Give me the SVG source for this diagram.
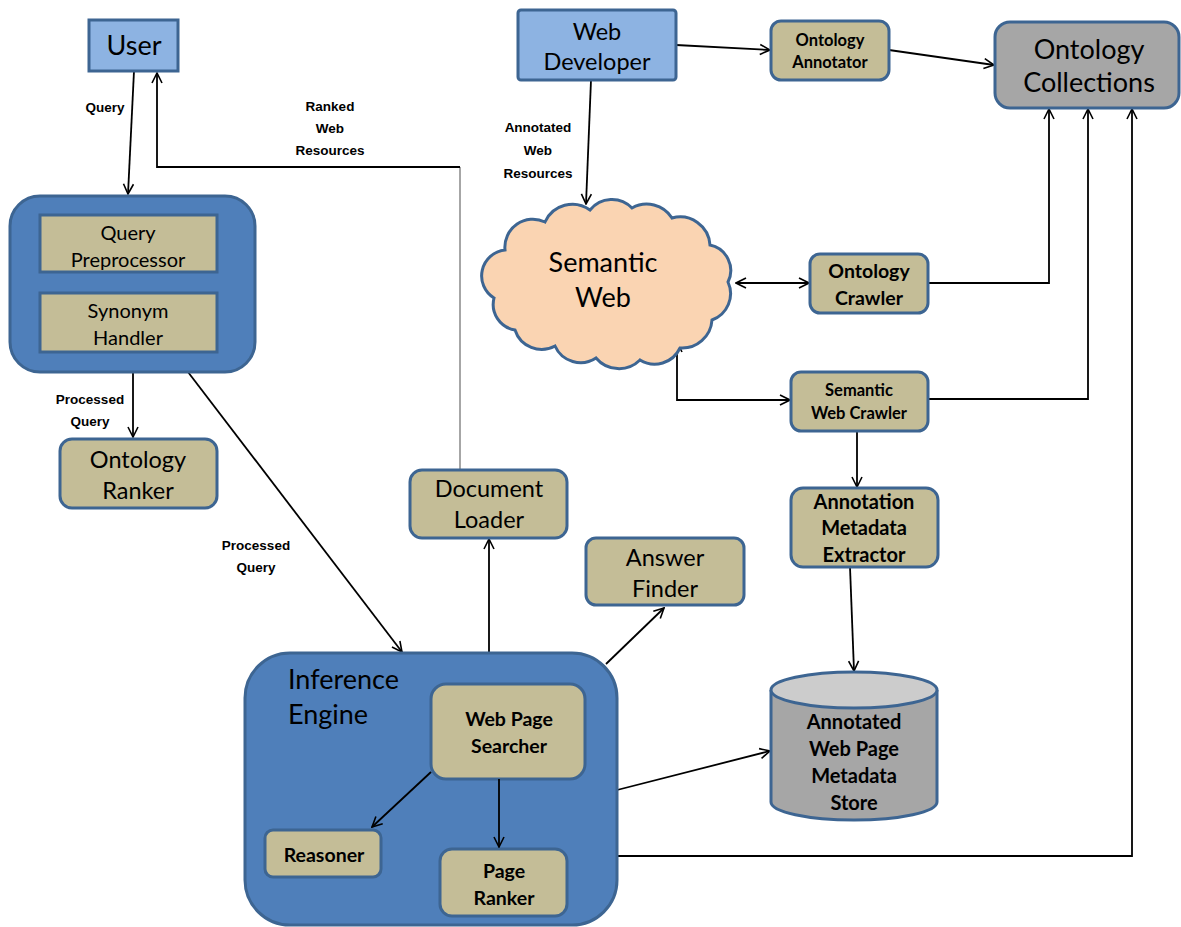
<svg xmlns="http://www.w3.org/2000/svg" width="1181" height="927" viewBox="0 0 1181 927">
<defs>
<marker id="arr" viewBox="0 0 12 12" refX="11" refY="6" markerWidth="12" markerHeight="12" markerUnits="userSpaceOnUse" orient="auto-start-reverse">
<path d="M1,1 L11,6 L1,11" fill="none" stroke="#000" stroke-width="1.6"/>
</marker>
</defs>
<style>
text{font-family:Lato,"Open Sans","Liberation Sans",sans-serif;fill:#000;text-anchor:middle}
.big{font-size:27px}
.mid{font-size:23.5px}
.sm{font-size:19.5px;font-weight:bold}
.xs{font-size:16.5px;font-weight:bold}
.bx{font-size:20px;font-weight:bold}
.qp{font-size:20px}
.lbl{font-family:"Liberation Sans",Arial,sans-serif;font-size:13.5px;font-weight:bold}
.blue{fill:#8db3e2;stroke:#3d6592;stroke-width:3}
.tan{fill:#c4bd97;stroke:#3d6592;stroke-width:3}
.dark{fill:#4f7fba;stroke:#3d6592;stroke-width:3}
.gray{fill:#a6a6a6;stroke:#3d6592;stroke-width:3}
.c{fill:none;stroke:#000;stroke-width:1.8}
</style>
<rect width="1181" height="927" fill="#fff"/>

<g id="connectors">
<path class="c" d="M134,71 L128,194" marker-end="url(#arr)"/>
<path d="M460,470 L460,167" fill="none" stroke="#888" stroke-width="1.5"/>
<path class="c" d="M460,167 L157,167 L157,73" marker-end="url(#arr)"/>
<path class="c" d="M676,45 L770,50" marker-end="url(#arr)"/>
<path class="c" d="M889,50 L994,65" marker-end="url(#arr)"/>
<path class="c" d="M591,80 L586,204" marker-end="url(#arr)"/>
<path class="c" d="M736,283 L809,283" marker-start="url(#arr)" marker-end="url(#arr)"/>
<path class="c" d="M677,342 L677,400 L790,400" marker-start="url(#arr)" marker-end="url(#arr)"/>
<path class="c" d="M928,283 L1049,283 L1049,109" marker-end="url(#arr)"/>
<path class="c" d="M928,399 L1088,399 L1088,109" marker-end="url(#arr)"/>
<path class="c" d="M617,856 L1132,856 L1132,109" marker-end="url(#arr)"/>
<path class="c" d="M857,431 L857,487" marker-end="url(#arr)"/>
<path class="c" d="M850,567 L854,671" marker-end="url(#arr)"/>
<path class="c" d="M128,272 L128,292" marker-end="url(#arr)"/>
<path class="c" d="M133,372 L133,437" marker-end="url(#arr)"/>
<path class="c" d="M188,372 L402,652" marker-end="url(#arr)"/>
<path class="c" d="M489,655 L489,539" marker-end="url(#arr)"/>
<path class="c" d="M606,664 L664,608" marker-end="url(#arr)"/>
<path class="c" d="M617,790 L770,751" marker-end="url(#arr)"/>
<text class="lbl" x="105" y="112">Query</text>
<text class="lbl" x="330" y="111">Ranked</text>
<text class="lbl" x="330" y="133">Web</text>
<text class="lbl" x="330" y="155">Resources</text>
<text class="lbl" x="538" y="132">Annotated</text>
<text class="lbl" x="538" y="155">Web</text>
<text class="lbl" x="538" y="178">Resources</text>
<text class="lbl" x="90" y="404">Processed</text>
<text class="lbl" x="90" y="426">Query</text>
<text class="lbl" x="256" y="550">Processed</text>
<text class="lbl" x="256" y="572">Query</text>
</g>

<g id="user">
<rect class="blue" x="89" y="20" width="89" height="51"/>
<text class="big" x="134" y="55">User</text>
</g>

<g id="web-developer">
<rect class="blue" x="518" y="10" width="158" height="70" rx="3"/>
<text class="mid" x="597" y="40">Web</text>
<text class="mid" x="597" y="70">Developer</text>
</g>

<g id="ontology-annotator">
<rect class="tan" x="771" y="21" width="118" height="59" rx="10"/>
<text class="xs" x="830" y="46">Ontology</text>
<text class="xs" x="830" y="68">Annotator</text>
</g>

<g id="ontology-collections">
<rect class="gray" x="995" y="22" width="184" height="86" rx="15"/>
<text class="big" x="1089" y="59">Ontology</text>
<text class="big" x="1089" y="92">Collections</text>
</g>

<g id="semantic-web">
<path d="M505,250 A28,28 0 0 1 545,222 A30,30 0 0 1 590,210 A28,28 0 0 1 632,208 A30,30 0 0 1 672,218 A30,30 0 0 1 710,245 A26,26 0 0 1 728,282 A28,28 0 0 1 712,320 A30,30 0 0 1 680,348 A28,28 0 0 1 640,360 A30,30 0 0 1 596,358 A28,28 0 0 1 555,346 A28,28 0 0 1 515,330 A26,26 0 0 1 494,298 A26,26 0 0 1 505,250 Z" fill="#fad4b2" stroke="#3d6592" stroke-width="3"/>
<text class="big" x="603" y="272">Semantic</text>
<text class="big" x="603" y="307">Web</text>
</g>

<g id="ontology-crawler">
<rect class="tan" x="810" y="254" width="118" height="59" rx="10"/>
<text class="sm" x="869" y="278">Ontology</text>
<text class="sm" x="869" y="305">Crawler</text>
</g>

<g id="semantic-web-crawler">
<rect class="tan" x="791" y="372" width="137" height="59" rx="10"/>
<text class="xs" x="859" y="396">Semantic</text>
<text class="xs" x="859" y="419">Web Crawler</text>
</g>

<g id="annotation-metadata-extractor">
<rect class="tan" x="791" y="488" width="147" height="79" rx="12"/>
<text class="bx" x="864" y="509">Annotation</text>
<text class="bx" x="864" y="535">Metadata</text>
<text class="bx" x="864" y="562">Extractor</text>
</g>

<g id="metadata-store">
<path d="M771,690 L771,802 A83,18 0 0 0 937,802 L937,690" fill="#a6a6a6" stroke="#3d6592" stroke-width="3"/>
<ellipse cx="854" cy="690" rx="83" ry="18" fill="#cccccc" stroke="#3d6592" stroke-width="3"/>
<text class="bx" x="854" y="729">Annotated</text>
<text class="bx" x="854" y="756">Web Page</text>
<text class="bx" x="854" y="783">Metadata</text>
<text class="bx" x="854" y="810">Store</text>
</g>

<g id="answer-finder">
<rect class="tan" x="586" y="538" width="158" height="67" rx="10"/>
<text class="mid" x="665" y="566">Answer</text>
<text class="mid" x="665" y="597">Finder</text>
</g>

<g id="document-loader">
<rect class="tan" x="410" y="470" width="157" height="68" rx="12"/>
<text class="mid" x="489" y="497">Document</text>
<text class="mid" x="489" y="528">Loader</text>
</g>

<g id="query-module">
<rect class="dark" x="10" y="196" width="245" height="176" rx="30"/>
</g>

<g id="query-preprocessor">
<rect class="tan" x="40" y="215" width="177" height="57"/>
<text class="qp" x="128" y="240">Query</text>
<text class="qp" x="128" y="267">Preprocessor</text>
</g>

<g id="synonym-handler">
<rect class="tan" x="40" y="293" width="177" height="59"/>
<text class="qp" x="128" y="318">Synonym</text>
<text class="qp" x="128" y="345">Handler</text>
</g>

<g id="ontology-ranker">
<rect class="tan" x="60" y="439" width="157" height="69" rx="12"/>
<text class="mid" x="138" y="468">Ontology</text>
<text class="mid" x="138" y="499">Ranker</text>
</g>

<g id="inference-engine">
<rect class="dark" x="245" y="653" width="372" height="272" rx="45"/>
<text class="big" x="288" y="689" style="text-anchor:start">Inference</text>
<text class="big" x="288" y="724" style="text-anchor:start">Engine</text>
</g>

<g id="web-page-searcher">
<rect class="tan" x="431" y="684" width="154" height="95" rx="15"/>
<text class="sm" x="509" y="726">Web Page</text>
<text class="sm" x="509" y="753">Searcher</text>
</g>

<g id="reasoner">
<rect class="tan" x="265" y="830" width="116" height="47" rx="8"/>
<text class="sm" x="324" y="862">Reasoner</text>
</g>

<g id="page-ranker">
<rect class="tan" x="440" y="849" width="127" height="67" rx="12"/>
<text class="sm" x="504" y="878">Page</text>
<text class="sm" x="504" y="905">Ranker</text>
</g>

<g id="inner-connectors">
<path class="c" d="M431,772 L372,827" marker-end="url(#arr)"/>
<path class="c" d="M499,779 L499,847" marker-end="url(#arr)"/>
</g>
</svg>
